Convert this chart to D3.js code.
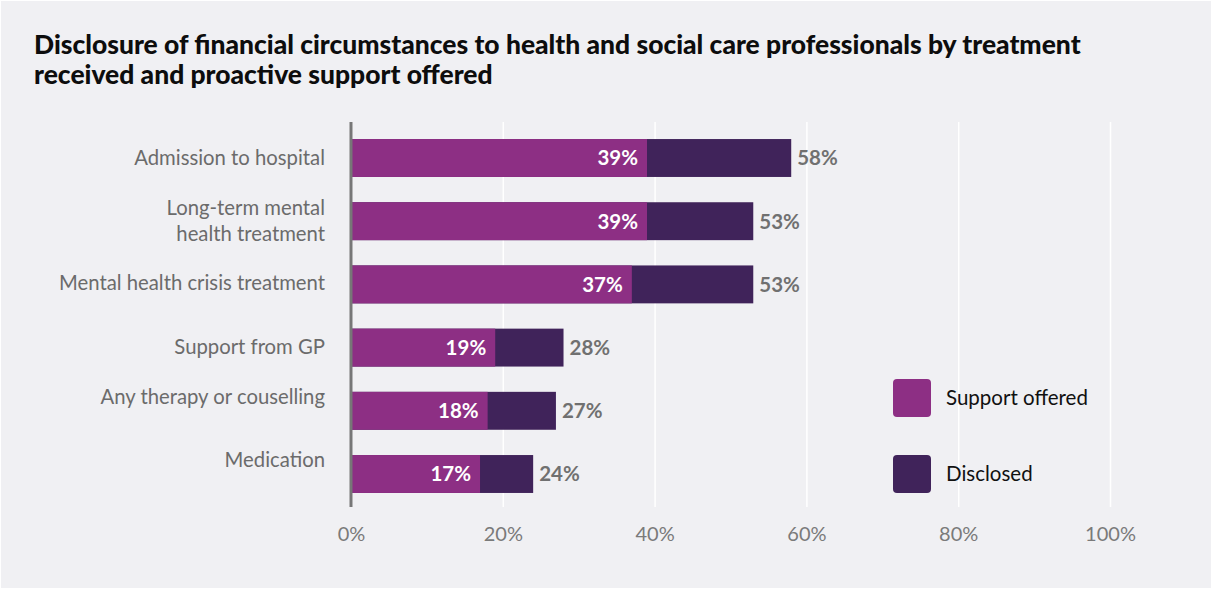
<!DOCTYPE html>
<html>
<head>
<meta charset="utf-8">
<script src="https://cdn.jsdelivr.net/npm/d3@7"></script>
<style>
  html, body { margin: 0; padding: 0; background: #ffffff; }
  svg { display: block; }
  text { font-family: Lato, "Noto Sans", sans-serif; }
</style>
</head>
<body>
<svg id="chart" width="1212" height="590"></svg>
<script>
// Treatment categories (top to bottom) and the two measured shares, in percent
const categories = [
  ["Admission to hospital"],
  ["Long-term mental", "health treatment"],
  ["Mental health crisis treatment"],
  ["Support from GP"],
  ["Any therapy or couselling"],
  ["Medication"]
];
const supportOffered = [39, 39, 37, 19, 18, 17];
const disclosed = [58, 53, 53, 28, 27, 24];
const xTicks = [0, 20, 40, 60, 80, 100];
const seriesNames = ["Support offered", "Disclosed"];

const titleLines = [
  "Disclosure of financial circumstances to health and social care professionals by treatment",
  "received and proactive support offered"
];

const colors = { support: "#8d2f84", disclosed: "#40235a" };

const svg = d3.select("#chart");
const W = 1212, H = 590;

// panel background with a thin light frame
svg.append("rect").attr("x", 1).attr("y", 1).attr("width", W - 2).attr("height", H - 3)
  .attr("fill", "#f0f0f3");

// title
const title = svg.append("text")
  .attr("x", 34).attr("y", 54)
  .attr("font-size", 26.45).attr("font-weight", 900).attr("fill", "#0d0d0d");
titleLines.forEach((t, i) => {
  title.append("tspan").attr("x", 34).attr("dy", i === 0 ? 0 : 30).text(t);
});

const rowIds = categories.map((_, i) => i);

const x = d3.scaleLinear().domain([0, 100]).range([351, 1110]);
const y = d3.scaleBand().domain(rowIds).range([126.4, 505.6])
  .paddingInner(0.4).paddingOuter(0.2);

const plotTop = 122, plotBottom = 507;

// vertical gridlines from the x axis ticks
const xAxis = d3.axisBottom(x).tickValues(xTicks).tickFormat(d => d + "%")
  .tickSize(-(plotBottom - plotTop)).tickPadding(20);
const gx = svg.append("g").attr("transform", `translate(0,${plotBottom})`).call(xAxis);
gx.select(".domain").remove();
gx.selectAll(".tick line").attr("stroke", "#ffffff").attr("stroke-width", 1.5);
gx.selectAll(".tick text")
  .attr("font-size", 20).attr("fill", "#7a7a7a")
  .attr("font-family", 'Lato, "Noto Sans", sans-serif');

// bars: dark segment spans the full disclosed share, purple the support share
const rows = svg.append("g");
rows.selectAll("rect.disc").data(rowIds).join("rect")
  .attr("class", "disc")
  .attr("x", x(0)).attr("y", i => y(i))
  .attr("width", i => x(disclosed[i]) - x(0))
  .attr("height", y.bandwidth())
  .attr("fill", colors.disclosed);
rows.selectAll("rect.sup").data(rowIds).join("rect")
  .attr("class", "sup")
  .attr("x", x(0)).attr("y", i => y(i))
  .attr("width", i => x(supportOffered[i]) - x(0))
  .attr("height", y.bandwidth())
  .attr("fill", colors.support);

// value labels
rows.selectAll("text.sup").data(rowIds).join("text")
  .attr("class", "sup")
  .attr("x", i => x(supportOffered[i]) - 9)
  .attr("y", i => y(i) + y.bandwidth() / 2)
  .attr("dy", "0.36em")
  .attr("text-anchor", "end")
  .attr("font-size", 20.5).attr("font-weight", 700).attr("fill", "#ffffff")
  .text(i => supportOffered[i] + "%");
rows.selectAll("text.disc").data(rowIds).join("text")
  .attr("class", "disc")
  .attr("x", i => x(disclosed[i]) + 6)
  .attr("y", i => y(i) + y.bandwidth() / 2)
  .attr("dy", "0.36em")
  .attr("text-anchor", "start")
  .attr("font-size", 20.5).attr("font-weight", 700).attr("fill", "#707070")
  .text(i => disclosed[i] + "%");

// baseline axis
svg.append("line")
  .attr("x1", x(0)).attr("x2", x(0)).attr("y1", plotTop).attr("y2", plotBottom)
  .attr("stroke", "#777777").attr("stroke-width", 3);

// category labels (the lower two sit slightly above their bars)
const labelNudge = [0, 0, -2, -1, -14, -14];
const lineH = 26;
svg.append("g").selectAll("text").data(rowIds).join("text")
  .attr("text-anchor", "end")
  .attr("font-size", 20.3).attr("fill", "#6b6b6b")
  .attr("transform", i => {
    const n = categories[i].length;
    const cy = y(i) + y.bandwidth() / 2 + labelNudge[i] - (n - 1) * lineH / 2;
    return `translate(325,${cy})`;
  })
  .each(function(i) {
    const t = d3.select(this);
    categories[i].forEach((line, k) => {
      t.append("tspan").attr("x", 0).attr("y", k * lineH).attr("dy", "0.35em").text(line);
    });
  });

// legend
const legendColors = [colors.support, colors.disclosed];
const legend = svg.append("g");
const lg = legend.selectAll("g").data(seriesNames).join("g")
  .attr("transform", (d, i) => `translate(893,${379 + i * 76})`);
lg.append("rect").attr("width", 38).attr("height", 38).attr("rx", 4)
  .attr("fill", (d, i) => legendColors[i]);
lg.append("text").attr("x", 53).attr("y", 19).attr("dy", "0.35em")
  .attr("font-size", 20.5).attr("fill", "#111111")
  .text(d => d);
</script>
</body>
</html>
